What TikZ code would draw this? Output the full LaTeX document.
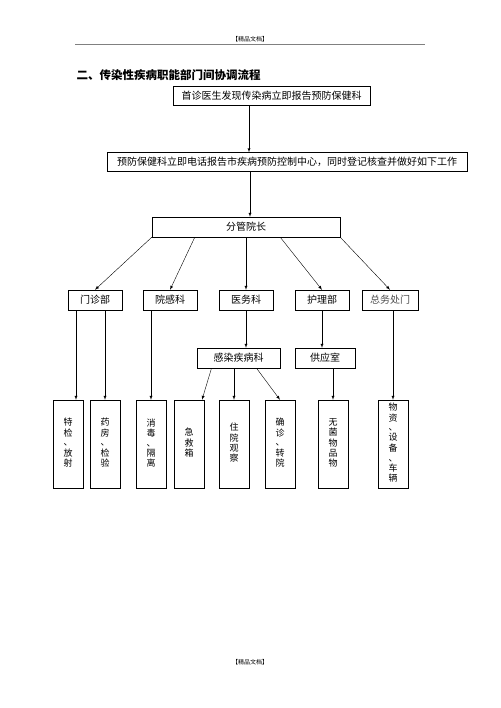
\documentclass[tikz,border=0pt]{standalone}
\usepackage{fontspec}
\setmainfont{Noto Sans CJK SC}
\usetikzlibrary{arrows,positioning}
\tikzset{
    raw box/.style={rectangle, draw, thin, inner sep=0pt, align=center, font=\fontsize{10}{11}\selectfont},
    wide box/.style={raw box, minimum height=19pt},
    dept box/.style={raw box, minimum width=54pt, minimum height=20pt},
    sub box/.style={raw box, minimum height=20pt},
    task box/.style={raw box, minimum width=30pt, minimum height=88pt, font=\fontsize{9}{9.6}\selectfont},
    link/.style={->, >=latex, thin}
}
\newcommand{\vtext}[1]{\begin{tabular}{@{}c@{}}#1\end{tabular}}

\begin{document}
\begin{tikzpicture}[x=1pt,y=-1pt]
	\useasboundingbox (0,0) rectangle (500,708);
	% page header and footer
	\node[font=\fontsize{6}{7}\selectfont] (hdr) at (250,39) {【精品文档】};
	\draw[gray, very thin] (75,44) -- (425,44);
	\node[font=\fontsize{6}{7}\selectfont] (ftr) at (250,662) {【精品文档】};
	\node[anchor=west, font=\fontsize{11.5}{13}\selectfont\bfseries] (title) at (73,75) {二、传染性疾病职能部门间协调流程};
	% top chain
	\node[wide box, minimum width=197pt] (doctor) at (271.5,96) {首诊医生发现传染病立即报告预防保健科};
	\node[wide box, minimum width=360pt] (prevent) at (287,162) {预防保健科立即电话报告市疾病预防控制中心，同时登记核查并做好如下工作};
	\node[wide box, minimum width=188pt, minimum height=20pt] (dean) at (246,227) {分管院长};
	% departments
	\node[dept box] (clinic) at (95,300) {门诊部};
	\node[dept box] (infect) at (170,300) {院感科};
	\node[dept box] (medical) at (246,300) {医务科};
	\node[dept box] (nursing) at (322,300) {护理部};
	\node[dept box, minimum width=56pt, text=black!70] (general) at (390,300) {总务处门};
	\node[sub box, minimum width=83pt] (disease) at (238.5,358) {感染疾病科};
	\node[sub box, minimum width=60pt] (supply) at (325,358) {供应室};
	% tasks
	\node[task box] (t1) at (68,444) {\vtext{特\\检\\、\\放\\射}};
	\node[task box] (t2) at (105,444) {\vtext{药\\房\\、\\检\\验}};
	\node[task box] (t3) at (151,444) {\vtext{消\\毒\\、\\隔\\离}};
	\node[task box] (t4) at (189,444) {\vtext{急\\救\\箱}};
	\node[task box] (t5) at (234,444) {\vtext{住\\院\\观\\察}};
	\node[task box] (t6) at (280,444) {\vtext{确\\诊\\、\\转\\院}};
	\node[task box] (t7) at (333,444) {\vtext{无\\菌\\物\\品\\物}};
	\node[task box] (t8) at (393,444) {\vtext{物\\资\\、\\设\\备\\、\\车\\辆}};
	% connectors
	\draw[link] ([xshift=-22.5pt]doctor.south) -- ([xshift=-22.5pt]doctor.south |- prevent.north);
	\draw[link] (prevent.south -| 250,0) -- (dean.north -| 250,0);
	\draw[link] (dean.south west) -- (clinic.north);
	\draw[link] ([xshift=43pt]dean.south west) -- (infect.north);
	\draw[link] (dean.south) -- (medical.north);
	\draw[link] ([xshift=-60pt]dean.south east) -- (nursing.north);
	\draw[link] (dean.south east) -- (general.north);
	\draw[link] (medical.south) -- (medical.south |- disease.north);
	\draw[link] (nursing.south) -- (nursing.south |- supply.north);
	\draw[link] ([xshift=8pt]clinic.south -| t1.north) -- ([xshift=8pt]t1.north);
	\draw[link] (clinic.south -| t2.north) -- (t2.north);
	\draw[link] (infect.south -| t3.north) -- (t3.north);
	\draw[link] ([xshift=-27pt]disease.south) -- ([xshift=13pt]t4.north);
	\draw[link] (disease.south -| t5.north) -- (t5.north);
	\draw[link] ([xshift=18pt]disease.south) -- (t6.north);
	\draw[link] (supply.south -| t7.north) -- (t7.north);
	\draw[link] (general.south -| t8.north) -- (t8.north);
\end{tikzpicture}
\end{document}
